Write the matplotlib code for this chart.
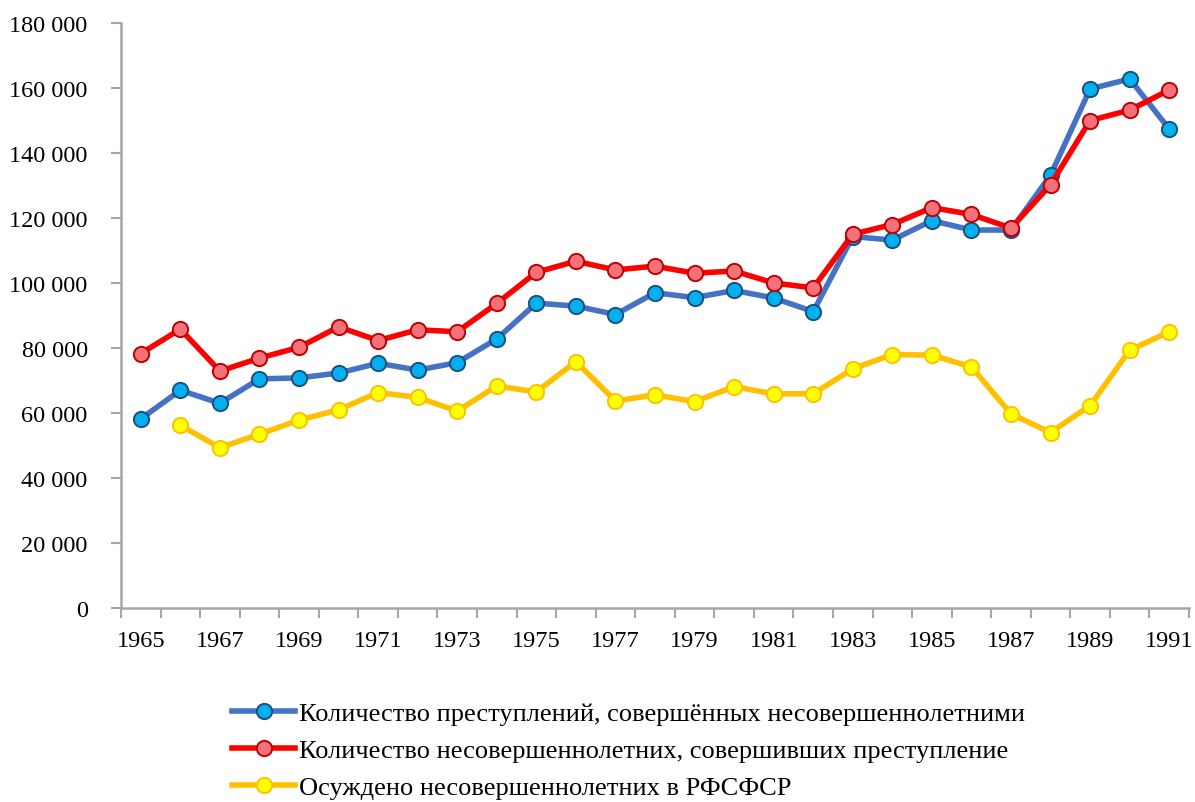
import matplotlib
matplotlib.use("Agg")
import matplotlib.pyplot as plt
import numpy as np
from matplotlib.ticker import FuncFormatter

plt.rcParams['font.family'] = ['Liberation Serif', 'DejaVu Serif']

years = list(range(1965, 1992))
crimes = [58200, 67000, 63000, 70500, 70800, 72300, 75300, 73200, 75500, 82800,
          93800, 92900, 90300, 97000, 95500, 97700, 95400, 91200, 114300, 113200,
          119200, 116300, 116300, 133200, 159700, 162800, 147400]
offenders = [78300, 85800, 72900, 76900, 80200, 86500, 82300, 85600, 85000, 93700,
             103300, 106700, 104000, 105200, 103000, 103700, 100000, 98500, 115000, 118000,
             123200, 121100, 116900, 130200, 150000, 153200, 159400]
convicted = [np.nan, 56200, 49300, 53500, 57800, 61000, 66300, 64800, 60600, 68300,
             66500, 75800, 63700, 65600, 63500, 68100, 65900, 65900, 73600, 78000,
             77800, 74200, 59700, 54000, 62300, 79300, 85000]
labels = ["Количество преступлений, совершённых несовершеннолетними",
          "Количество несовершеннолетних, совершивших преступление",
          "Осуждено несовершеннолетних в РФСФСР"]

fig = plt.figure(figsize=(11.95, 8.03), dpi=100)
ax = fig.add_axes([121/1195, 194/803, (1189-121)/1195, (609-24)/803])

x = np.arange(len(years))
styles = [
    dict(color='#4472C4', mfc='#00B0F0', mec='#1F4E79'),
    dict(color='#FF0000', mfc='#F4717A', mec='#C00000'),
    dict(color='#FFC000', mfc='#FFFF00', mec='#FFC000'),
]
handles = []
for vals, st, lab in zip([crimes, offenders, convicted], styles, labels):
    h, = ax.plot(x, vals, color=st['color'], lw=4, marker='o', ms=11,
                 mfc=st['mfc'], mec=st['mec'], mew=1.4, label=lab, zorder=3)
    handles.append(h)

ax.set_xlim(-0.5, len(years) - 0.5)
ax.set_ylim(0, 180000)
ax.set_yticks(np.arange(0, 180001, 20000))
ax.yaxis.set_major_formatter(FuncFormatter(lambda v, p: f"{int(v):,}".replace(",", " ")))

ax.set_xticks(np.arange(-0.5, len(years), 1.0))
ax.set_xticklabels([])
ax.set_xticks(x[::2], minor=True)
ax.set_xticklabels([str(y) for y in years[::2]], minor=True)
ax.tick_params(axis='x', which='minor', length=0, pad=16, labelsize=17.5)
ax.tick_params(axis='x', which='major', length=7, width=1.5, color='#A6A6A6')
ax.tick_params(axis='y', length=7, width=1.5, color='#A6A6A6', pad=17, labelsize=17.5)

for s in ['top', 'right']:
    ax.spines[s].set_visible(False)
for s in ['left', 'bottom']:
    ax.spines[s].set_color('#A6A6A6')
    ax.spines[s].set_linewidth(1.8)

fig.legend(handles=handles, loc='upper left', bbox_to_anchor=(232/1195, 1 - 703/803),
           frameon=False, fontsize=19, handlelength=2.4, handletextpad=0.15,
           labelspacing=0.5, borderpad=0, borderaxespad=0)

fig.savefig("out.png", dpi=100)
